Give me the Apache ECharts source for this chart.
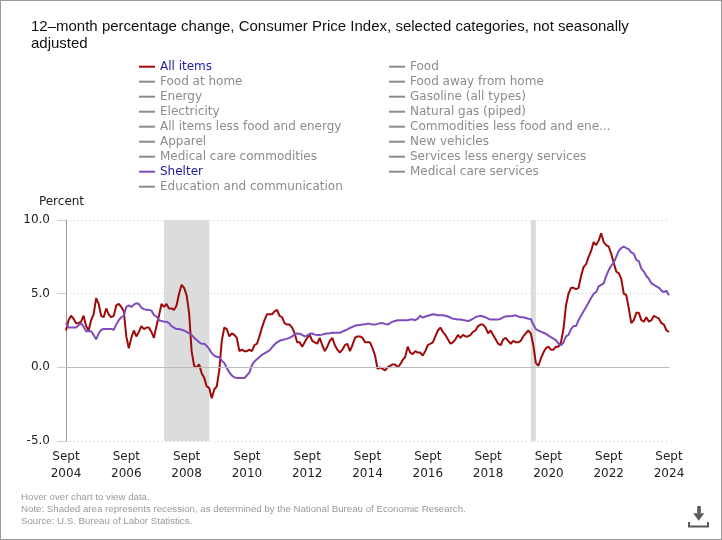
<!DOCTYPE html>
<html>
<head>
<meta charset="utf-8">
<script src="https://cdn.jsdelivr.net/npm/echarts/dist/echarts.min.js"></script>
<style>
html,body{margin:0;padding:0;background:#fff;}
#chart{position:absolute;left:0;top:0;width:722px;height:540px;}
#frame{position:absolute;left:0;top:0;width:722px;height:540px;box-sizing:border-box;border:1px solid #9a9a9a;pointer-events:none;}
</style>
</head>
<body>
<div id="chart"></div>
<div id="frame"></div>
<script>
// ---------- data ----------
const monthNames = ['Jan','Feb','Mar','Apr','May','June','July','Aug','Sept','Oct','Nov','Dec'];
const startYear = 2004;
const startMonth = 8; // Sept
const monthCount = 241; // Sept 2004 .. Sept 2024

const categories = [];
for (let i = 0; i < monthCount; i++) {
  const t = startMonth + i;
  categories.push(monthNames[t % 12] + ' ' + (startYear + Math.floor(t / 12)));
}

// All items, 12-month % change (Sept 2004 .. Sept 2024)
const allItems = [
  2.5, 3.2, 3.5, 3.3,
  3.0, 3.0, 3.1, 3.5, 2.8, 2.5, 3.2, 3.6, 4.7, 4.3, 3.5, 3.4,
  4.0, 3.6, 3.4, 3.5, 4.2, 4.3, 4.1, 3.8, 2.1, 1.3, 2.0, 2.5,
  2.1, 2.4, 2.8, 2.6, 2.7, 2.7, 2.4, 2.0, 2.8, 3.5, 4.3, 4.1,
  4.3, 4.0, 4.0, 3.9, 4.2, 5.0, 5.6, 5.4, 4.9, 3.7, 1.1, 0.1,
  0.0, 0.2, -0.4, -0.7, -1.3, -1.4, -2.1, -1.5, -1.3, -0.2, 1.8, 2.7,
  2.6, 2.1, 2.3, 2.2, 2.0, 1.1, 1.2, 1.1, 1.1, 1.2, 1.1, 1.5,
  1.6, 2.1, 2.7, 3.2, 3.6, 3.6, 3.6, 3.8, 3.9, 3.5, 3.4, 3.0,
  2.9, 2.9, 2.7, 2.3, 1.7, 1.7, 1.4, 1.7, 2.0, 2.2, 1.8, 1.7,
  1.6, 2.0, 1.5, 1.1, 1.4, 1.8, 2.0, 1.5, 1.2, 1.0, 1.2, 1.5,
  1.6, 1.1, 1.5, 2.0, 2.1, 2.1, 2.0, 1.7, 1.7, 1.7, 1.3, 0.8,
  -0.1, 0.0, -0.1, -0.2, 0.0, 0.1, 0.2, 0.2, 0.0, 0.2, 0.5, 0.7,
  1.4, 1.0, 0.9, 1.1, 1.0, 1.0, 0.8, 1.1, 1.5, 1.6, 1.7, 2.1,
  2.5, 2.7, 2.4, 2.2, 1.9, 1.6, 1.7, 1.9, 2.2, 2.0, 2.2, 2.1,
  2.1, 2.2, 2.4, 2.5, 2.8, 2.9, 2.9, 2.7, 2.3, 2.5, 2.2, 1.9,
  1.6, 1.5, 1.9, 2.0, 1.8, 1.6, 1.8, 1.7, 1.7, 1.8, 2.1, 2.3,
  2.5, 2.3, 1.5, 0.3, 0.1, 0.6, 1.0, 1.3, 1.4, 1.2, 1.2, 1.4,
  1.4, 1.7, 2.6, 4.2, 5.0, 5.4, 5.4, 5.3, 5.4, 6.2, 6.8, 7.0,
  7.5, 7.9, 8.5, 8.3, 8.6, 9.1, 8.5, 8.3, 8.2, 7.7, 7.1, 6.5,
  6.4, 6.0, 5.0, 4.9, 4.0, 3.0, 3.2, 3.7, 3.7, 3.2, 3.1, 3.4,
  3.1, 3.2, 3.5, 3.4, 3.3, 3.0, 2.9, 2.5, 2.4
];

// Shelter, 12-month % change (Sept 2004 .. Sept 2024)
const shelter = [
  3.0, 2.7, 2.7, 2.7,
  2.7, 2.85, 3.0, 2.75, 2.45, 2.45, 2.45, 2.2, 1.9, 2.3, 2.55, 2.6,
  2.6, 2.6, 2.6, 2.55, 2.9, 3.2, 3.4, 3.5, 4.1, 4.2, 4.1, 4.25,
  4.35, 4.3, 4.05, 3.95, 3.9, 3.9, 3.85, 3.55, 3.45, 3.2, 3.15, 3.1,
  3.1, 3.0, 2.8, 2.7, 2.6, 2.6, 2.55, 2.5, 2.4, 2.3, 2.2, 2.0,
  1.85, 1.7, 1.6, 1.6, 1.45, 1.25, 0.95, 0.8, 0.72, 0.68, 0.45, 0.3,
  -0.05, -0.35, -0.55, -0.68, -0.72, -0.72, -0.72, -0.72, -0.55, -0.35, 0.15, 0.4,
  0.55, 0.7, 0.85, 0.95, 1.05, 1.15, 1.35, 1.55, 1.7, 1.8, 1.85, 1.9,
  1.95, 2.0, 2.1, 2.25, 2.3, 2.28, 2.2, 2.1, 2.15, 2.28, 2.3, 2.22,
  2.2, 2.2, 2.22, 2.28, 2.3, 2.32, 2.35, 2.35, 2.35, 2.35, 2.42, 2.5,
  2.58, 2.67, 2.75, 2.82, 2.85, 2.88, 2.9, 2.93, 2.96, 2.95, 2.9, 2.9,
  2.95, 3.0, 3.0, 2.95, 2.9, 3.0, 3.1, 3.15, 3.2, 3.2, 3.2, 3.2,
  3.2, 3.25, 3.25, 3.2, 3.3, 3.5, 3.37, 3.45, 3.5, 3.55, 3.6, 3.58,
  3.53, 3.53, 3.53, 3.5, 3.45, 3.38, 3.3, 3.28, 3.25, 3.25, 3.22, 3.18,
  3.15, 3.2, 3.3, 3.42, 3.46, 3.5, 3.45, 3.4, 3.3, 3.24, 3.24, 3.24,
  3.24, 3.3, 3.4, 3.46, 3.46, 3.46, 3.5, 3.53, 3.45, 3.4, 3.4, 3.35,
  3.3, 3.28, 2.9, 2.6, 2.5, 2.42, 2.35, 2.28, 2.15, 2.05, 1.95, 1.85,
  1.6, 1.5, 1.7, 2.1, 2.2, 2.6, 2.8, 2.8, 3.2, 3.5, 3.8, 4.1,
  4.4, 4.7, 5.0, 5.1, 5.5, 5.6, 5.7, 6.2, 6.6, 6.9, 7.1, 7.5,
  7.9, 8.1, 8.2, 8.1, 8.0, 7.8, 7.7, 7.3, 7.2, 6.7, 6.5, 6.2,
  6.0, 5.7, 5.6, 5.5, 5.4, 5.2, 5.1, 5.2, 4.9
];

// Recession periods (NBER)
const recessions = [
  ['Dec 2007', 'June 2009'],
  ['Feb 2020', 'Apr 2020']
];

// Legend columns
const legendCol1 = ['All items', 'Food at home', 'Energy', 'Electricity',
  'All items less food and energy', 'Apparel', 'Medical care commodities',
  'Shelter', 'Education and communication'];
const legendCol2 = ['Food', 'Food away from home', 'Gasoline (all types)',
  'Natural gas (piped)', 'Commodities less food and energy commodities',
  'New vehicles', 'Services less energy services', 'Medical care services'];
const shownSeries = ['All items', 'Shelter'];

const yMin = -5, yMax = 10, yStep = 5;

const titleText = '12\u2013month percentage change, Consumer Price Index, selected categories, not seasonally\nadjusted';
const footnotes = [
  'Hover over chart to view data.',
  'Note: Shaded area represents recession, as determined by the National Bureau of Economic Research.',
  'Source: U.S. Bureau of Labor Statistics.'
];

// ---------- chart ----------
const seriesData = { 'All items': allItems, 'Shelter': shelter };
const seriesColor = { 'All items': '#9e0b0b', 'Shelter': '#7d4dbd' };

function selMap(names) {
  const m = {};
  names.forEach(n => { m[n] = shownSeries.indexOf(n) >= 0; });
  return m;
}

const series = [];
series.push({
  name: '__recession',
  type: 'line',
  data: [],
  silent: true,
  z: 1,
  markArea: {
    silent: true,
    itemStyle: { color: '#dcdcdc' },
    data: recessions.map(r => [{ xAxis: r[0] }, { xAxis: r[1] }])
  },
  markLine: {
    silent: true,
    symbol: ['none', 'none'],
    label: { show: false },
    lineStyle: { color: '#bcbcbc', type: 'solid', width: 1 },
    data: [{ yAxis: 0 }]
  }
});
legendCol1.concat(legendCol2).forEach(name => {
  series.push({
    name: name,
    type: 'line',
    data: seriesData[name] || [],
    color: seriesColor[name] || '#8c8c8c',
    symbol: 'none',
    showSymbol: false,
    lineStyle: { width: 2 },
    z: 3
  });
});

const legendBase = {
  orient: 'vertical',
  top: 59.2,
  padding: 0,
  itemWidth: 16,
  itemHeight: 2,
  itemGap: 0,
  icon: 'rect',
  inactiveColor: '#8c8c8c',
  itemStyle: { borderWidth: 0 },
  textStyle: { fontFamily: 'DejaVu Sans', fontSize: 12, color: '#1b1b9b', lineHeight: 15 }
};

const chart = echarts.init(document.getElementById('chart'), null, { renderer: 'canvas' });
chart.setOption({
  animation: false,
  backgroundColor: '#ffffff',
  textStyle: { fontFamily: 'DejaVu Sans' },
  title: {
    text: titleText,
    left: 31,
    top: 18.5,
    padding: 0,
    textStyle: { fontFamily: 'Liberation Sans', fontSize: 15, fontWeight: 'normal', color: '#111', lineHeight: 17 }
  },
  legend: [
    Object.assign({}, legendBase, { left: 139, data: legendCol1, selected: selMap(legendCol1) }),
    Object.assign({}, legendBase, {
      left: 389, data: legendCol2, selected: selMap(legendCol2),
      textStyle: Object.assign({}, legendBase.textStyle, { width: 207, overflow: 'truncate', ellipsis: '...' })
    })
  ],
  grid: { left: 66, right: 53, top: 220, bottom: 99, containLabel: false, outerBoundsMode: 'none' },
  xAxis: {
    type: 'category',
    data: categories,
    boundaryGap: false,
    axisLine: { show: true, lineStyle: { color: '#8a8a8a', width: 1 } },
    axisTick: { show: false },
    splitLine: { show: false },
    axisLabel: {
      interval: 23,
      margin: 7,
      color: '#222',
      fontFamily: 'DejaVu Sans',
      fontSize: 12,
      lineHeight: 17.5,
      hideOverlap: false,
      showMinLabel: true,
      showMaxLabel: true,
      formatter: v => v.replace(' ', '\n')
    }
  },
  yAxis: {
    type: 'value',
    min: yMin,
    max: yMax,
    interval: yStep,
    name: 'Percent',
    nameLocation: 'end',
    nameGap: 12.5,
    nameTextStyle: { fontFamily: 'DejaVu Sans', fontSize: 12, color: '#222', align: 'center', padding: [0, 9, 0, 0] },
    axisLine: { show: true, lineStyle: { color: '#9a9a9a', width: 1 } },
    axisTick: { show: true, length: 9, lineStyle: { color: '#c4cbe6', width: 1 } },
    splitLine: { show: true, lineStyle: { color: '#c8c8c8', type: [1, 3], width: 1 } },
    axisLabel: {
      margin: 16,
      color: '#222',
      fontFamily: 'DejaVu Sans',
      fontSize: 12,
      formatter: v => v.toFixed(1)
    }
  },
  graphic: [
    {
      type: 'text',
      left: 21,
      top: 491,
      silent: true,
      style: {
        text: footnotes.join('\n'),
        font: '9.7px "Liberation Sans", Arial, sans-serif',
        fill: '#999999',
        lineHeight: 12
      }
    },
    {
      type: 'group',
      left: 686.5,
      top: 506,
      silent: true,
      children: [
        { type: 'rect', shape: { x: 9.2, y: 0, width: 3.6, height: 7.5 }, style: { fill: '#5a5a5a' } },
        { type: 'polygon', shape: { points: [[5.2, 7.3], [16.2, 7.3], [10.7, 14.7]] }, style: { fill: '#5a5a5a' } },
        { type: 'polyline', shape: { points: [[1, 16], [1, 20.5], [20, 20.5], [20, 16]] }, style: { stroke: '#5a5a5a', lineWidth: 2, fill: null } }
      ]
    }
  ],
  series: series
});
</script>
</body>
</html>
